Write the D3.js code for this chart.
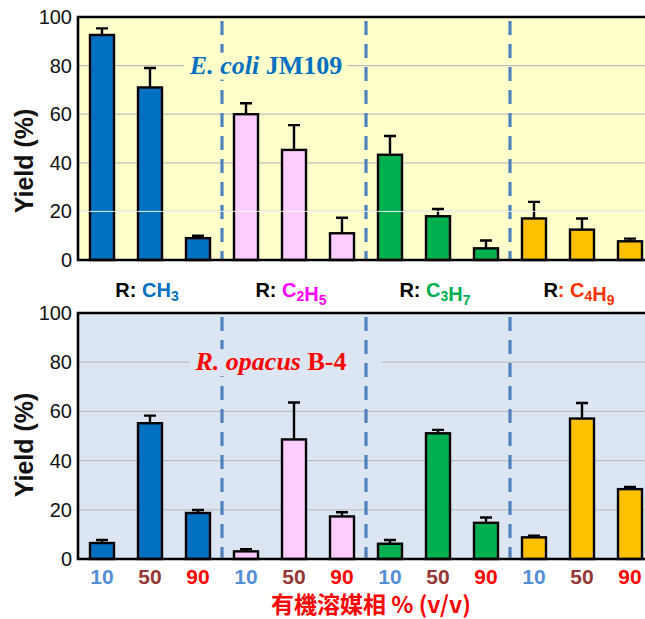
<!DOCTYPE html>
<html>
<head>
<meta charset="utf-8">
<script src="https://cdn.jsdelivr.net/npm/d3@7"></script>
<style>
  body { margin: 0; background: #fff; }
  text { font-family: "Liberation Sans", Arial, sans-serif; }
</style>
</head>
<body>
<div id="chart"></div>
<script>
// substituents (groups of three bars) and solvent phase % (v/v)
var groups = ["CH3", "C2H5", "C3H7", "C4H9"];
var groupColors = ["#0070C0", "#FF00FF", "#00B050", "#FF3300"];
var barColors = ["#0070C0", "#FFCCFF", "#00B050", "#FFC000"];
var solvent = ["10", "50", "90"];
var solventColors = ["#558ED5", "#953735", "#FF0000"];
var yTicks = [0, 20, 40, 60, 80, 100];

// E. coli JM109, yield (%) and error
var ecoliYield = [92.6, 71, 9, 60, 45.3, 11, 43.3, 18, 4.8, 17.1, 12.5, 7.7];
var ecoliErr   = [2.7, 8, 1, 4.5, 10.2, 6.4, 7.7, 3, 3.2, 6.8, 4.6, 1.1];

// R. opacus B-4, yield (%) and error
var opacusYield = [6.5, 55.2, 18.7, 3.1, 48.6, 17.3, 6.2, 51.1, 14.7, 8.8, 57.1, 28.4];
var opacusErr   = [1.2, 3.1, 1.2, 0.9, 15, 1.7, 1.5, 1.4, 2.2, 0.7, 6.3, 0.9];

var W = 645, H = 619;
var svg = d3.select("#chart").append("svg")
    .attr("width", W).attr("height", H);

// one key per bar: group index + solvent index
var keys = [];
groups.forEach(function (g, gi) {
  solvent.forEach(function (s, si) { keys.push(gi + "-" + si); });
});

var x = d3.scaleBand().domain(keys).range([78, 654])
    .paddingInner(0.5).paddingOuter(0.25);
var bw = x.bandwidth();

function panel(opt) {
  var y = d3.scaleLinear().domain([0, 100]).range([opt.bottom, opt.top]);
  var g = svg.append("g");

  g.append("rect")
    .attr("x", 78).attr("y", y(100))
    .attr("width", W - 78).attr("height", y(0) - y(100))
    .attr("fill", opt.bg);

  // grid
  g.selectAll(".grid").data(yTicks.slice(1, -1)).enter()
    .append("line")
    .attr("x1", 78).attr("x2", W)
    .attr("y1", function (d) { return y(d); })
    .attr("y2", function (d) { return y(d); })
    .attr("stroke", "#BFBFBF").attr("stroke-width", 1.2);

  // gap in the 80 gridline behind the title
  var gap = g.append("rect").attr("fill", opt.bg);

  // dashed separators between groups
  var seps = [1, 2, 3].map(function (gi) {
    var a = x((gi - 1) + "-2") + bw, b = x(gi + "-0");
    return (a + b) / 2;
  });
  g.selectAll(".sep").data(seps).enter()
    .append("line")
    .attr("x1", function (d) { return d; })
    .attr("x2", function (d) { return d; })
    .attr("y1", y(100) + 4).attr("y2", y(0))
    .attr("stroke", "#4F81BD").attr("stroke-width", 3.2)
    .attr("stroke-dasharray", "14,9");

  // title with background box (covers the first dashed line)
  var title = g.append("text")
    .attr("x", opt.titleX).attr("y", y(80) + 8)
    .attr("text-anchor", "middle")
    .style("font-family", "'Liberation Serif', 'Times New Roman', serif")
    .style("font-weight", "bold").style("font-size", "26px")
    .attr("fill", opt.titleColor);
  title.append("tspan").style("font-style", "italic").text(opt.titleItalic);
  title.append("tspan").text(" " + opt.titleRest);
  var bb = title.node().getBBox();
  gap.attr("x", bb.x - 5).attr("y", y(80) - 3)
    .attr("width", bb.width + 10 + opt.titlePad).attr("height", 6);
  g.insert("rect", "text")
    .attr("x", bb.x - 5).attr("y", bb.y + 2)
    .attr("width", bb.width + 10).attr("height", bb.height - 2)
    .attr("fill", opt.bg);

  // bars
  var data = keys.map(function (k, i) {
    return { key: k, gi: +k[0], v: opt.values[i], e: opt.errors[i] };
  });

  g.selectAll(".err").data(data).enter()
    .append("path")
    .attr("d", function (d) {
      var cx = x(d.key) + bw / 2;
      return "M" + cx + "," + y(d.v) + "V" + y(d.v + d.e) +
        "M" + (cx - 6) + "," + y(d.v + d.e) + "H" + (cx + 6);
    })
    .attr("stroke", "#000").attr("stroke-width", 2.4).attr("fill", "none");

  g.selectAll(".bar").data(data).enter()
    .append("rect")
    .attr("x", function (d) { return x(d.key); })
    .attr("y", function (d) { return y(d.v); })
    .attr("width", bw)
    .attr("height", function (d) { return y(0) - y(d.v); })
    .attr("fill", function (d) { return barColors[d.gi]; })
    .attr("stroke", "#000").attr("stroke-width", 2.4);

  if (opt.whiteLine) {
    g.append("line")
      .attr("x1", 78).attr("x2", W)
      .attr("y1", y(20)).attr("y2", y(20))
      .attr("stroke", "#fff").attr("stroke-width", 1).attr("opacity", 0.9);
  }

  // frame: top, left, bottom
  g.append("path")
    .attr("d", "M" + W + "," + y(100) + "H78V" + y(0) + "H" + W)
    .attr("stroke", "#000").attr("stroke-width", 2.6).attr("fill", "none");

  // y axis
  var ax = g.append("g").attr("transform", "translate(78,0)")
    .call(d3.axisLeft(y).tickValues(yTicks).tickSize(0).tickPadding(6));
  ax.select(".domain").remove();
  ax.selectAll("text").style("font-size", "20px")
    .style("font-family", "'Liberation Sans', Arial, sans-serif")
    .attr("fill", "#111");

  svg.append("text")
    .attr("transform", "translate(33," + opt.labelY + ") rotate(-90)")
    .attr("text-anchor", "middle")
    .style("font-weight", "bold").style("font-size", "25px")
    .attr("fill", "#111")
    .text("Yield (%)");

  return y;
}

panel({
  top: 17, bottom: 260, bg: "#FFFFCC",
  values: ecoliYield, errors: ecoliErr,
  titleX: 266, titleColor: "#0070C0", titleItalic: "E. coli", titleRest: "JM109",
  titlePad: 0, labelY: 161, whiteLine: true
});

panel({
  top: 313, bottom: 559, bg: "#DCE6F2",
  values: opacusYield, errors: opacusErr,
  titleX: 271, titleColor: "#FF0000", titleItalic: "R. opacus", titleRest: "B-4",
  titlePad: 30, labelY: 445, whiteLine: false
});

// substituent labels under the top panel
groups.forEach(function (f, gi) {
  var cx = x(gi + "-1") + bw / 2;
  var t = svg.append("text")
    .attr("x", cx - 3).attr("y", 297)
    .attr("text-anchor", "middle")
    .style("font-weight", "bold").style("font-size", "20px");
  t.append("tspan").attr("fill", "#000").text("R");
  t.append("tspan").attr("fill", gi === 3 ? groupColors[gi] : "#000").text(": ");
  f.match(/[A-Z]|\d+/g).forEach(function (p) {
    var sub = /\d/.test(p);
    t.append("tspan")
      .attr("fill", groupColors[gi])
      .attr("dy", sub ? 4 : 0)
      .style("font-size", sub ? "14px" : "20px")
      .text(p);
    if (sub) t.append("tspan").attr("dy", -4).text("");
  });
});

// solvent % labels under the bottom panel
svg.selectAll(".xlab").data(keys).enter()
  .append("text")
  .attr("x", function (d) { return x(d) + bw / 2; })
  .attr("y", 584)
  .attr("text-anchor", "middle")
  .style("font-weight", "bold").style("font-size", "21px")
  .attr("fill", function (d) { return solventColors[+d[2]]; })
  .text(function (d) { return solvent[+d[2]]; });

svg.append("text")
  .attr("x", 371).attr("y", 613)
  .attr("text-anchor", "middle")
  .style("font-weight", "bold").style("font-size", "23px")
  .style("font-family", "'Noto Sans CJK JP', 'Liberation Sans', sans-serif")
  .attr("fill", "#FF0000")
  .text("有機溶媒相 % (v/v)");
</script>
</body>
</html>
